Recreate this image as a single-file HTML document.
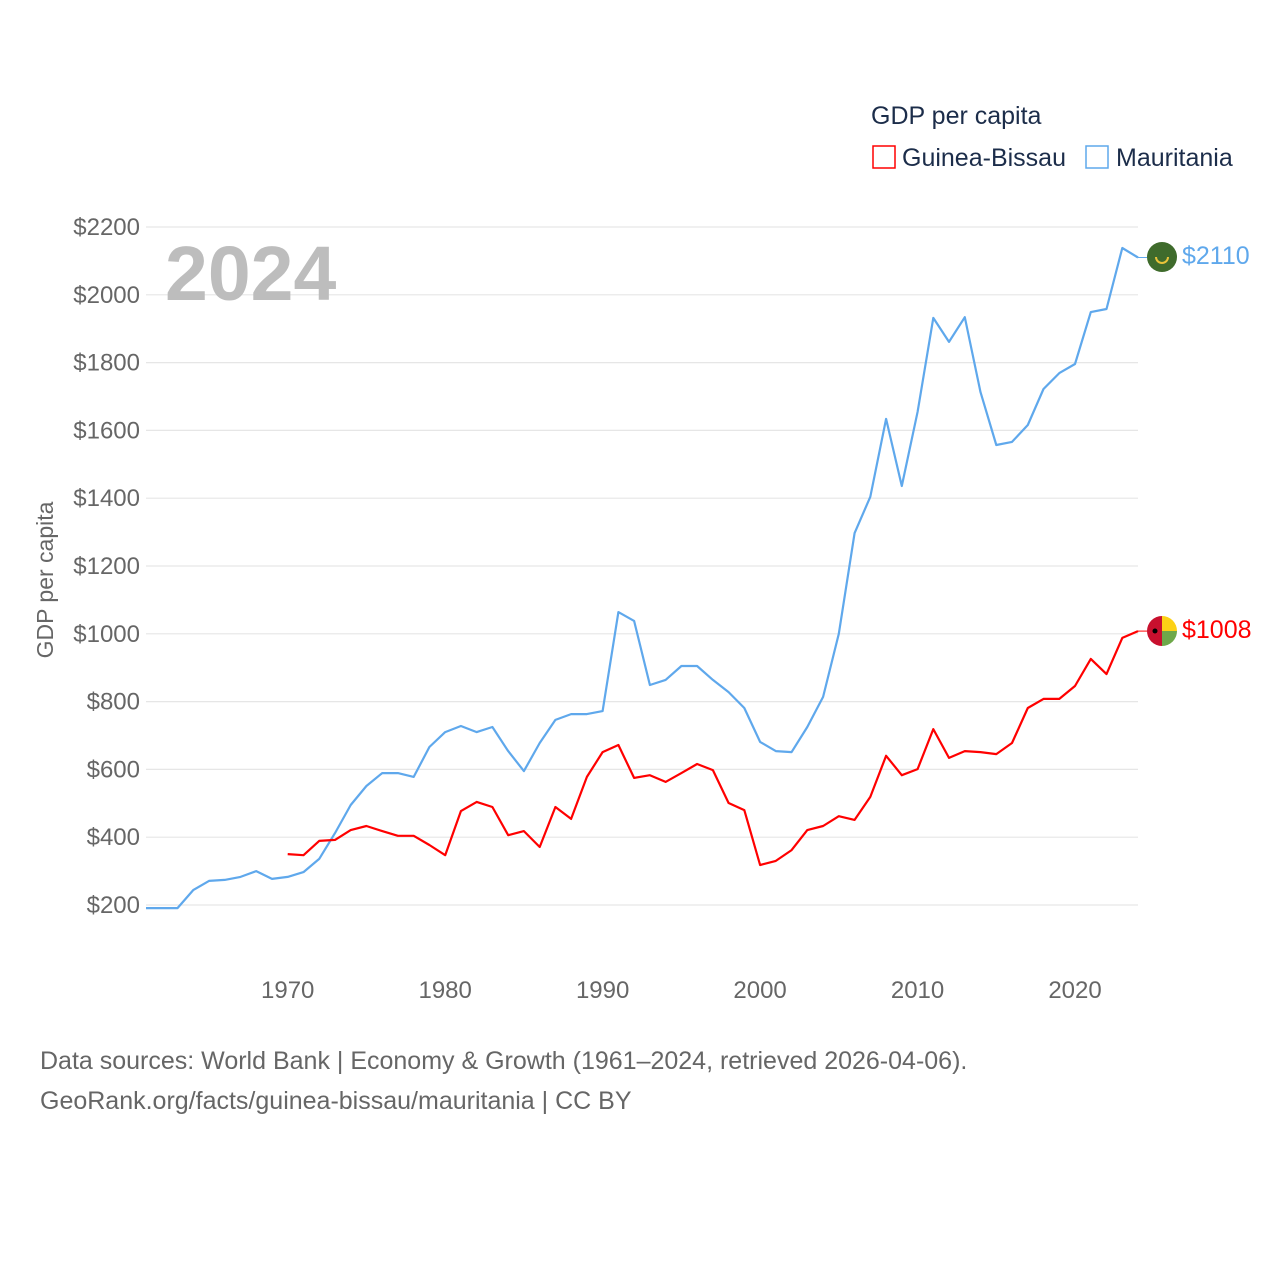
<!DOCTYPE html>
<html><head><meta charset="utf-8"><style>
body{margin:0;background:#fff;}
svg{display:block;font-family:"Liberation Sans",sans-serif;}
</style></head><body>
<svg width="1280" height="1280" id="chart">
<g id="grid"></g><g id="ylabels"></g><g id="xlabels"></g><g id="lines"></g>
<text x="165" y="300" font-size="77" font-weight="bold" fill="#bdbdbd">2024</text>
<text x="53" y="580" font-size="23" fill="#666" text-anchor="middle" transform="rotate(-90 53 580)">GDP per capita</text>
<text x="871" y="124" font-size="25" fill="#1c2d4a">GDP per capita</text>
<g><rect x="873" y="146" width="22" height="22" fill="none" stroke="#f00" stroke-width="1.5"/><text x="902" y="166" font-size="25" fill="#1c2d4a">Guinea-Bissau</text></g>
<g><rect x="1086" y="146" width="22" height="22" fill="none" stroke="#5fa8ec" stroke-width="1.5"/><text x="1116" y="166" font-size="25" fill="#1c2d4a">Mauritania</text></g>
<g><circle cx="1162" cy="257" r="15" fill="#3f6b2c"/><path d="M1156 257 a6 6 0 0 0 12 0" fill="none" stroke="#e8c33a" stroke-width="2"/></g>
<g><path d="M1162 616 a15 15 0 0 0 0 30z" fill="#c8102e"/><path d="M1162 616 a15 15 0 0 1 15 15 h-15z" fill="#fcd116"/><path d="M1162 631 h15 a15 15 0 0 1 -15 15z" fill="#6ea84a"/><circle cx="1155" cy="631" r="2.5" fill="#000"/></g>
<text x="1182" y="264" font-size="25" fill="#5fa8ec">$2110</text>
<text x="1182" y="638" font-size="25" fill="#f00">$1008</text>
<text x="40" y="1069" font-size="25" fill="#666">Data sources: World Bank | Economy &amp; Growth (1961–2024, retrieved 2026-04-06).</text>
<text x="40" y="1109" font-size="25" fill="#666">GeoRank.org/facts/guinea-bissau/mauritania | CC BY</text>
</svg>
<script>
const yTicks=[200,400,600,800,1000,1200,1400,1600,1800,2000,2200];
const xTicks=[1970,1980,1990,2000,2010,2020];
const mrYears=[1961,1962,1963,1964,1965,1966,1967,1968,1969,1970,1971,1972,1973,1974,1975,1976,1977,1978,1979,1980,1981,1982,1983,1984,1985,1986,1987,1988,1989,1990,1991,1992,1993,1994,1995,1996,1997,1998,1999,2000,2001,2002,2003,2004,2005,2006,2007,2008,2009,2010,2011,2012,2013,2014,2015,2016,2017,2018,2019,2020,2021,2022,2023,2024];
const mrValues=[191,191,191,244,271,274,283,300,277,283,297,336,412,495,551,589,589,578,666,710,728,710,725,654,595,678,746,763,763,772,1064,1038,849,864,905,905,864,828,781,681,654,651,725,814,1000,1297,1404,1634,1436,1655,1932,1861,1934,1713,1557,1566,1616,1722,1769,1796,1949,1958,2138,2110];
const gbYears=[1970,1971,1972,1973,1974,1975,1976,1977,1978,1979,1980,1981,1982,1983,1984,1985,1986,1987,1988,1989,1990,1991,1992,1993,1994,1995,1996,1997,1998,1999,2000,2001,2002,2003,2004,2005,2006,2007,2008,2009,2010,2011,2012,2013,2014,2015,2016,2017,2018,2019,2020,2021,2022,2023,2024];
const gbValues=[350,347,389,392,421,433,418,404,404,377,347,477,504,489,406,418,371,489,454,578,651,672,575,583,563,589,616,598,501,480,318,330,362,421,433,462,451,519,640,583,601,719,634,654,651,645,678,781,808,808,846,926,881,988,1008];
const NS='http://www.w3.org/2000/svg';
const X=y=>146+(y-1961)*(1138-146)/63;
const Y=v=>905-(v-200)*0.339;
const grid=document.getElementById('grid'),yl=document.getElementById('ylabels'),xl=document.getElementById('xlabels'),lines=document.getElementById('lines');
yTicks.forEach(t=>{
  const l=document.createElementNS(NS,'line');
  l.setAttribute('x1',146);l.setAttribute('x2',1138);l.setAttribute('y1',Y(t));l.setAttribute('y2',Y(t));
  l.setAttribute('stroke','#e6e6e6');l.setAttribute('stroke-width','1.2');
  
  
  grid.appendChild(l);
  const tx=document.createElementNS(NS,'text');
  tx.setAttribute('x',140);tx.setAttribute('y',Y(t)+8);tx.setAttribute('text-anchor','end');
  tx.setAttribute('font-size','24');tx.setAttribute('fill','#666');tx.textContent='$'+t;
  
  
  yl.appendChild(tx);
});
xTicks.forEach(t=>{
  const tx=document.createElementNS(NS,'text');
  tx.setAttribute('x',X(t));tx.setAttribute('y',998);tx.setAttribute('text-anchor','middle');
  tx.setAttribute('font-size','24');tx.setAttribute('fill','#666');tx.textContent=t;
  
  
  xl.appendChild(tx);
});
function line(years,vals,color,name){
  const pts=years.map((y,i)=>X(y).toFixed(1)+','+Y(vals[i]).toFixed(1));
  const p=document.createElementNS(NS,'polyline');
  p.setAttribute('points',pts.join(' '));p.setAttribute('fill','none');
  p.setAttribute('stroke',color);p.setAttribute('stroke-width','2.2');p.setAttribute('stroke-linejoin','round');
  
  
  lines.appendChild(p);
  const last=vals[vals.length-1];
  const c=document.createElementNS(NS,'line');
  c.setAttribute('x1',X(years[years.length-1]));c.setAttribute('x2',1147);
  c.setAttribute('y1',Y(last));c.setAttribute('y2',Y(last));c.setAttribute('stroke',color);c.setAttribute('stroke-width','1');
  
  
  lines.appendChild(c);
}
line(mrYears,mrValues,'#5fa8ec','mauritania-line');
line(gbYears,gbValues,'#ff0000','guinea-bissau-line');
</script>
</body></html>
